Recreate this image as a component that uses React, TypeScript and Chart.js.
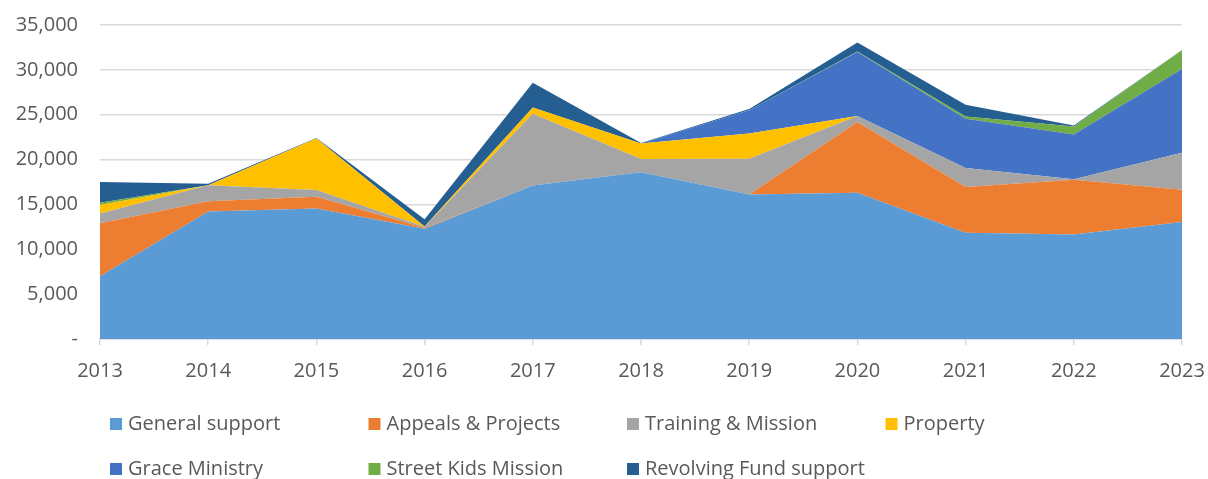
import React, { useEffect, useRef } from "react";
import { Chart, registerables } from "chart.js";

Chart.register(...registerables);

const years = ["2013", "2014", "2015", "2016", "2017", "2018", "2019", "2020", "2021", "2022", "2023"];
const generalSupport = [7000, 14200, 14550, 12300, 17100, 18600, 16100, 16300, 11850, 11650, 13050];
const appealsProjects = [5900, 1150, 1300, 100, 0, 0, 0, 7900, 5100, 6100, 3600];
const trainingMission = [1100, 1800, 750, 100, 8000, 1450, 4000, 650, 2100, 50, 4100];
const property = [950, 0, 5750, 50, 700, 1750, 2800, 0, 0, 0, 0];
const graceMinistry = [0, 0, 0, 0, 0, 0, 2600, 7150, 5500, 5000, 9350];
const streetKids = [250, 0, 0, 0, 0, 0, 0, 50, 250, 900, 2100];
const revolvingFund = [2300, 150, 50, 800, 2750, 50, 150, 1000, 1300, 100, 0];

const seriesLabels = [
  "General support",
  "Appeals & Projects",
  "Training & Mission",
  "Property",
  "Grace Ministry",
  "Street Kids Mission",
  "Revolving Fund support",
];
const seriesColors = ["#5B9BD5", "#ED7D31", "#A5A5A5", "#FFC000", "#4472C4", "#70AD47", "#255E91"];
const seriesValues = [generalSupport, appealsProjects, trainingMission, property, graceMinistry, streetKids, revolvingFund];

const FONT_FAMILY = "'Open Sans', 'Liberation Sans', sans-serif";
const TEXT_COLOR = "#595959";

const legendPlugin = {
  id: "gridLegend",
  afterDraw(chart: any) {
    const ctx = chart.ctx;
    const left = chart.chartArea.left + 10;
    const colW = 258.5;
    const rowY0 = chart.chartArea.bottom + 85;
    const rowH = 45;
    ctx.save();
    ctx.font = `20px ${FONT_FAMILY}`;
    ctx.textBaseline = "middle";
    ctx.textAlign = "left";
    chart.data.datasets.forEach((ds: any, i: number) => {
      const col = i % 4;
      const row = Math.floor(i / 4);
      const x = left + col * colW;
      const y = rowY0 + row * rowH;
      ctx.fillStyle = ds.backgroundColor;
      ctx.fillRect(x, y - 6, 12, 12);
      ctx.fillStyle = TEXT_COLOR;
      ctx.fillText(ds.label, x + 18, y);
    });
    ctx.restore();
  },
};

export default function App() {
  const canvasRef = useRef<HTMLCanvasElement | null>(null);

  useEffect(() => {
    if (!canvasRef.current) return;
    const datasets = seriesValues.map((vals, i) => ({
      label: seriesLabels[i],
      data: vals,
      backgroundColor: seriesColors[i],
      borderColor: seriesColors[i],
      borderWidth: 0,
      pointRadius: 0,
      fill: i === 0 ? "origin" : "-1",
      tension: 0,
    }));
    const chart = new Chart(canvasRef.current, {
      type: "line",
      data: { labels: years, datasets },
      options: {
        animation: false,
        responsive: false,
        devicePixelRatio: 1,
        layout: { padding: { left: 0, right: 26, top: 25, bottom: 0 } },
        plugins: {
          legend: { display: false },
          tooltip: { enabled: false },
        },
        scales: {
          x: {
            type: "category",
            offset: false,
            grid: {
              drawOnChartArea: false,
              drawTicks: true,
              tickLength: 6,
              color: "#d9d9d9",
              lineWidth: 1.5,
            },
            border: { color: "#d9d9d9", width: 1.5 },
            ticks: {
              color: TEXT_COLOR,
              font: { family: FONT_FAMILY, size: 20 },
              padding: 14,
              maxRotation: 0,
              autoSkip: false,
            },
            afterFit: (s: any) => {
              s.height = 140;
              s.paddingLeft = 0;
              s.paddingRight = 0;
            },
          },
          y: {
            stacked: true,
            min: 0,
            max: 35000,
            grid: { color: "#d9d9d9", lineWidth: 1.5, drawTicks: false },
            border: { display: false },
            ticks: {
              stepSize: 5000,
              color: TEXT_COLOR,
              font: { family: FONT_FAMILY, size: 20 },
              padding: 22,
              callback: (v: any) => (Number(v) === 0 ? "-" : Number(v).toLocaleString("en-US")),
            },
            afterFit: (s: any) => {
              s.width = 100;
              s.paddingTop = 0;
              s.paddingBottom = 0;
            },
          },
        },
      },
      plugins: [legendPlugin],
    });
    return () => chart.destroy();
  }, []);

  return (
    <div style={{ position: "absolute", left: 0, top: 0, width: 1208, height: 479, background: "#fff" }}>
      <canvas ref={canvasRef} width={1208} height={479} />
    </div>
  );
}
